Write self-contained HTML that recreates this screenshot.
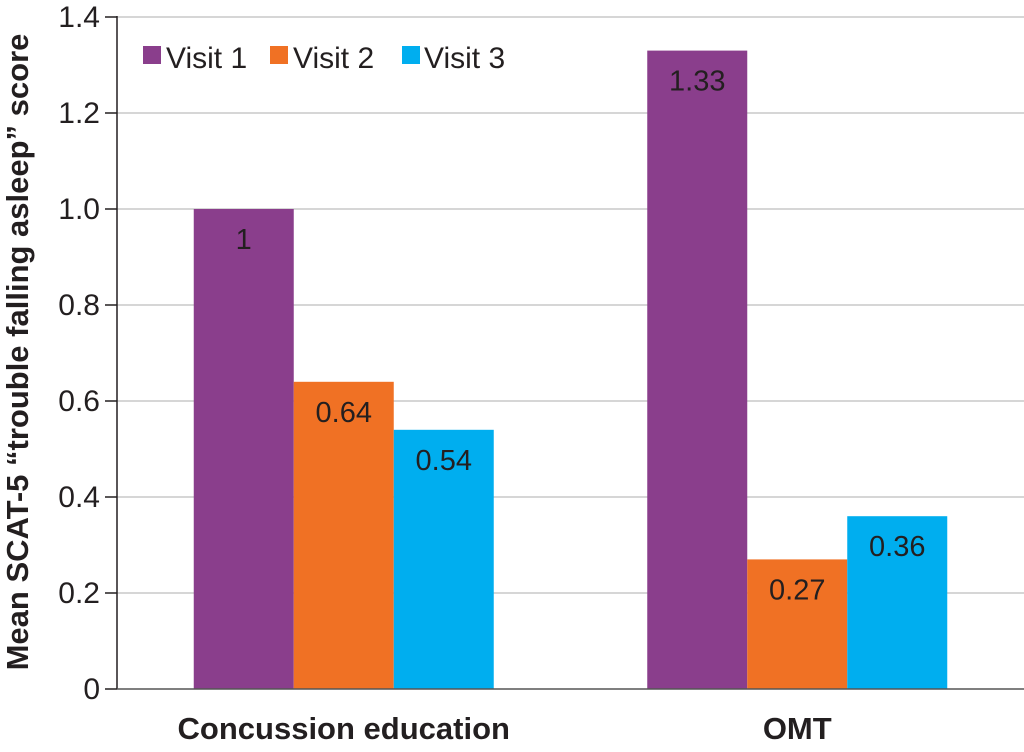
<!DOCTYPE html>
<html><head><meta charset="utf-8"><style>
body{margin:0;background:#fff;}
svg text{font-family:"Liberation Sans",Arial,sans-serif;fill:#231f20;}
</style></head><body>
<svg id="chart" width="1024" height="747" xmlns="http://www.w3.org/2000/svg">
<g id="grid"></g>
<g id="bars"></g>
<g id="axes"></g>
<text transform="translate(28,352) rotate(-90)" text-anchor="middle" font-size="31" font-weight="bold">Mean SCAT-5 “trouble falling asleep” score</text>
<g font-size="30">
<g><rect x="143" y="46" width="18" height="18" fill="#8a3e8c"/><text x="166" y="68">Visit 1</text></g>
<g><rect x="270" y="46" width="18" height="18" fill="#f07124"/><text x="293" y="68">Visit 2</text></g>
<g><rect x="402" y="46" width="18" height="18" fill="#00aeef"/><text x="424" y="68">Visit 3</text></g>
</g>
</svg>
<script>
const categories = ["Concussion education", "OMT"];
const seriesNames = ["Visit 1", "Visit 2", "Visit 3"];
const visit1 = [1, 1.33];
const visit2 = [0.64, 0.27];
const visit3 = [0.54, 0.36];
const valueLabels1 = ["1", "1.33"];
const valueLabels2 = ["0.64", "0.27"];
const valueLabels3 = ["0.54", "0.36"];
const yTicks = [0, 0.2, 0.4, 0.6, 0.8, 1.0, 1.2, 1.4];
const yTickLabels = ["0", "0.2", "0.4", "0.6", "0.8", "1.0", "1.2", "1.4"];

const colors = ["#8a3e8c", "#f07124", "#00aeef"];
const NS = "http://www.w3.org/2000/svg";
const x0 = 117, x1 = 1024, yBase = 689, yTop = 17, yMax = 1.4;
const y = v => yBase - (v / yMax) * (yBase - yTop);
const catW = (x1 - x0) / categories.length;
const barW = 100;
const xBar = (ci, si) => x0 + catW * (ci + 0.5) - 1.5 * barW + si * barW;
function mk(tag, attrs, parent) { const e = document.createElementNS(NS, tag); for (const k in attrs) e.setAttribute(k, attrs[k]); parent.appendChild(e); return e; }
const grid = document.getElementById('grid'), bars = document.getElementById('bars'), axes = document.getElementById('axes');
yTicks.forEach((t, i) => {
  if (t > 0) {
    const g = mk('line', {x1: x0, x2: x1, y1: y(t), y2: y(t), stroke: '#c8c8c8', 'stroke-width': 1.5}, grid);
    
    
  }
  const tk = mk('line', {x1: x0 - 12, x2: x0, y1: y(t), y2: y(t), stroke: '#231f20', 'stroke-width': 1.5}, axes);
  
  
  const tl = mk('text', {x: x0 - 17, y: y(t) + 10, 'text-anchor': 'end', 'font-size': 30}, axes);
  tl.textContent = yTickLabels[i];
  
  
});
const series = [visit1, visit2, visit3];
const labels = [valueLabels1, valueLabels2, valueLabels3];
categories.forEach((c, ci) => {
  series.forEach((s, si) => {
    const bx = xBar(ci, si);
    const r = mk('rect', {x: bx, y: y(s[ci]), width: barW, height: yBase - y(s[ci]), fill: colors[si]}, bars);
    
    
    const t = mk('text', {x: bx + barW / 2, y: y(s[ci]) + 40, 'text-anchor': 'middle', 'font-size': 29}, bars);
    t.textContent = labels[si][ci];
    
    
  });
  const cl = mk('text', {x: x0 + catW * (ci + 0.5), y: 739, 'text-anchor': 'middle', 'font-size': 31, 'font-weight': 'bold'}, axes);
  cl.textContent = c;
  
  
});
const ya = mk('line', {x1: x0, x2: x0, y1: yTop - 1, y2: yBase, stroke: '#231f20', 'stroke-width': 1.5}, axes);


const xa = mk('line', {x1: x0, x2: x1, y1: yBase, y2: yBase, stroke: '#555', 'stroke-width': 1.5}, axes);


</script>
</body></html>
